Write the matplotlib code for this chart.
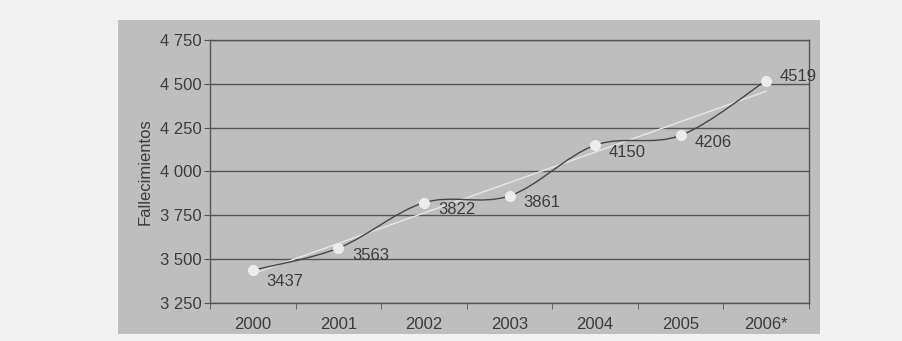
import numpy as np
import matplotlib.pyplot as plt
from matplotlib.path import Path
from matplotlib.patches import PathPatch, Rectangle

plt.rcParams['font.family'] = ['Liberation Sans', 'DejaVu Sans']

years = ['2000', '2001', '2002', '2003', '2004', '2005', '2006*']
deaths = [3437, 3563, 3822, 3861, 4150, 4206, 4519]
y_ticks = [3250, 3500, 3750, 4000, 4250, 4500, 4750]


def smooth_path(xs, ys, k=1.0 / 6):
    # Excel-like smoothed line: cubic bezier with catmull-rom handles
    verts = [(xs[0], ys[0])]
    codes = [Path.MOVETO]
    n = len(xs)
    for i in range(n - 1):
        x0, y0 = xs[max(i - 1, 0)], ys[max(i - 1, 0)]
        x1, y1 = xs[i], ys[i]
        x2, y2 = xs[i + 1], ys[i + 1]
        x3, y3 = xs[min(i + 2, n - 1)], ys[min(i + 2, n - 1)]
        c1 = (x1 + (x2 - x0) * k, y1 + (y2 - y0) * k)
        c2 = (x2 - (x3 - x1) * k, y2 - (y3 - y1) * k)
        verts += [c1, c2, (x2, y2)]
        codes += [Path.CURVE4] * 3
    return Path(verts, codes)


fig = plt.figure(figsize=(9.02, 3.41), dpi=100)
fig.patch.set_facecolor('#f2f2f2')
panel = Rectangle((118 / 902, 7 / 341), 702 / 902, 314 / 341,
                  transform=fig.transFigure, facecolor='#bebebe',
                  edgecolor='none', zorder=-10)
fig.add_artist(panel)

ax = fig.add_axes([210 / 902, 38 / 341, 599 / 902, 263 / 341])
ax.set_facecolor('#bebebe')

ind = np.arange(len(years))
fs = 12

ax.set_ylim(3250, 4750)
ax.set_xlim(-0.5, len(years) - 0.5)
ax.set_yticks(y_ticks)
ax.set_yticklabels(['{:,}'.format(v).replace(',', ' ') for v in y_ticks])
ax.set_xticks(ind)
ax.set_xticklabels(years)
ax.set_xticks(np.arange(len(years) + 1) - 0.5, minor=True)
ax.tick_params(axis='x', which='major', length=0, pad=10, labelsize=fs, labelcolor='#3c3c3c')
ax.tick_params(axis='x', which='minor', length=4, direction='out', color='#555555')
ax.tick_params(axis='y', length=4, direction='out', color='#555555', pad=2,
               labelsize=fs, labelcolor='#3c3c3c')

ax.grid(axis='y', color='#555555', linewidth=1.0)
ax.set_axisbelow(True)
for s in ax.spines.values():
    s.set_color('#555555')
    s.set_linewidth(1.0)

# linear trend
coef = np.polyfit(ind, deaths, 1)
ax.plot(ind, np.polyval(coef, ind), color='#e6e6e6', linewidth=1.0, zorder=3)

# smoothed series
ax.add_patch(PathPatch(smooth_path(ind, deaths), facecolor='none',
                       edgecolor='#454545', linewidth=1.0, zorder=4))
ax.plot(ind, deaths, linestyle='none', marker='o', markersize=7,
        markerfacecolor='#ececec', markeredgecolor='#ececec', zorder=5)

for i, v in enumerate(deaths):
    dy = -5 if i < len(deaths) - 1 else 3
    if i == 0:
        dy = -8
    ax.annotate(str(v), (ind[i], v), xytext=(10, dy), textcoords='offset points',
                ha='left', va='center', fontsize=fs, color='#3c3c3c', zorder=6)

ax.set_ylabel('Fallecimientos', fontsize=fs, color='#3c3c3c', labelpad=5)

fig.savefig('out.png', dpi=100, facecolor=fig.get_facecolor())
